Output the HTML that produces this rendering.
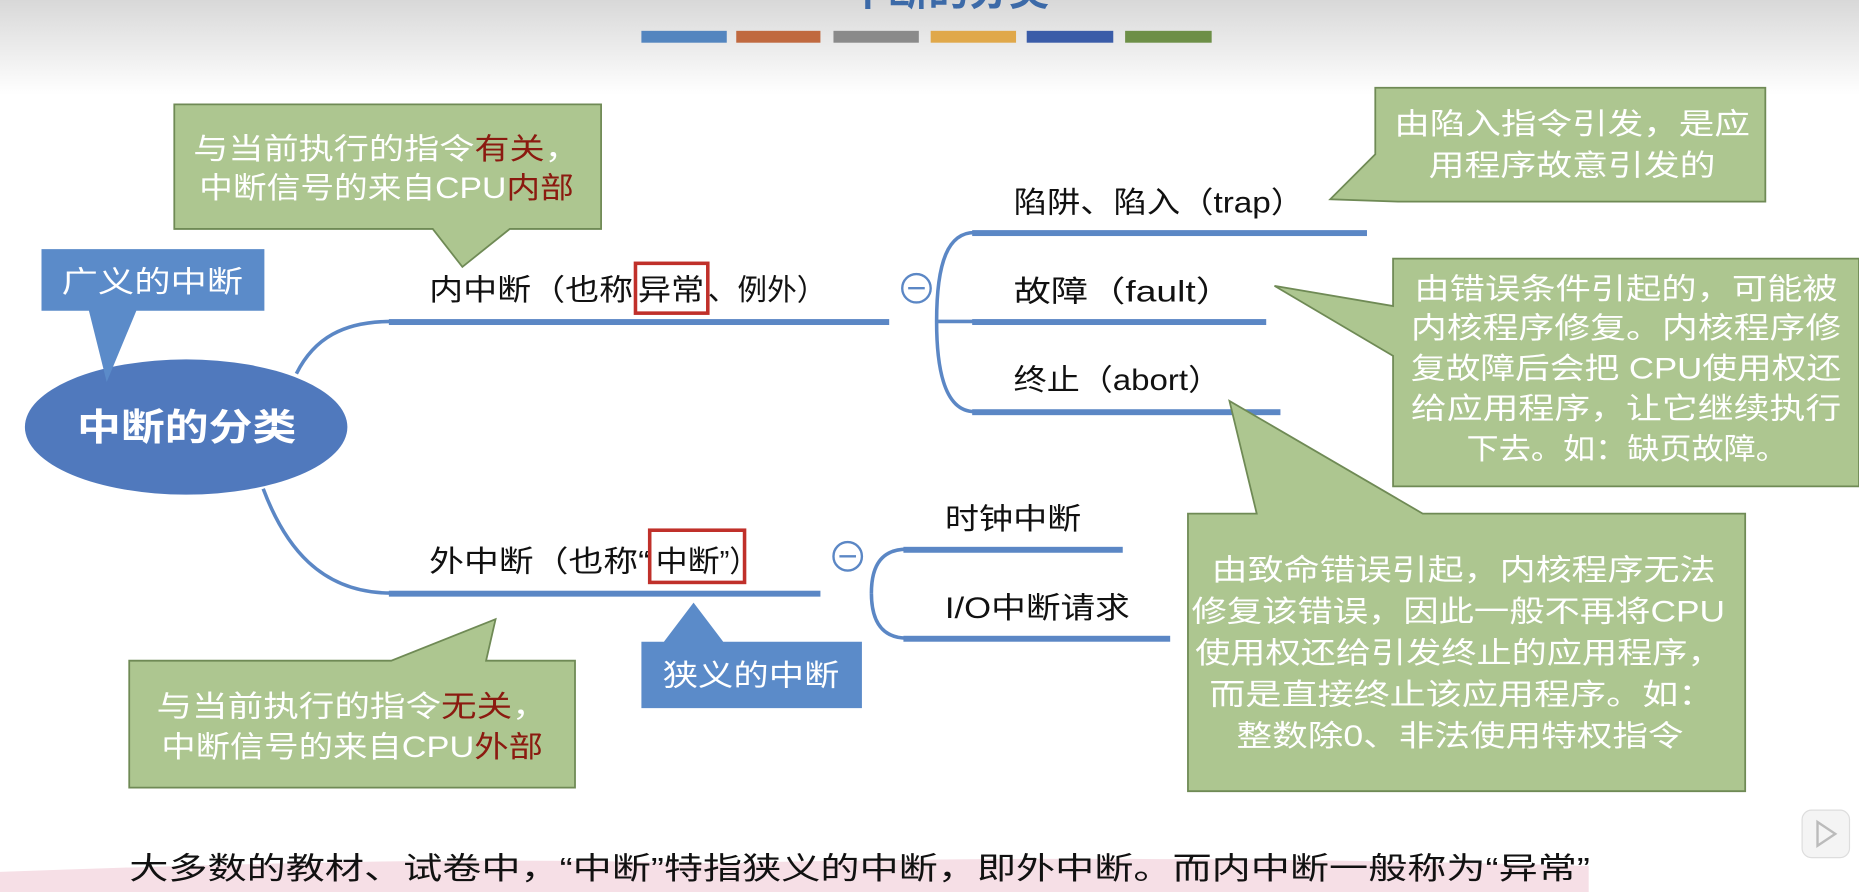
<!DOCTYPE html>
<html><head><meta charset="utf-8"><style>
html,body{margin:0;padding:0;background:#fff;overflow:hidden}
svg{display:block}
text{font-family:"Liberation Sans","Noto Sans CJK SC",sans-serif}
</style></head><body>
<svg width="1859" height="892" viewBox="0 0 1568 752" preserveAspectRatio="none" xmlns="http://www.w3.org/2000/svg">
<defs>
<linearGradient id="hg" x1="0" y1="0" x2="0" y2="1"><stop offset="0" stop-color="#d8d8d8"/><stop offset="1" stop-color="#ffffff"/></linearGradient>
</defs>
<rect x="0" y="0" width="1568" height="80" fill="url(#hg)"/>
<text x="800" y="4" font-size="34" fill="#3c6aa8" text-anchor="middle" font-weight="bold">中断的分类</text>
<rect x="541" y="26" width="72" height="10" fill="#5385bf"/>
<rect x="621" y="26" width="71" height="10" fill="#c0693f"/>
<rect x="703" y="26" width="72" height="10" fill="#8a8a8a"/>
<rect x="785" y="26" width="72" height="10" fill="#e0a84a"/>
<rect x="866" y="26" width="73" height="10" fill="#3a5ca8"/>
<rect x="949" y="26" width="73" height="10" fill="#6d8f47"/>

<g fill="none" stroke="#5b87c5" stroke-width="3">
<path d="M250 315 C265 285 290 271 330 271"/>
<path d="M222 412 C240 460 270 500 330 500"/>
<path d="M790 271 C790 220 800 196 822 196"/>
<path d="M790 271 L822 271"/>
<path d="M790 271 C790 320 800 347 822 347"/>
<path d="M735 500 C735 475 745 463 765 463"/>
<path d="M735 500 C735 525 745 538 765 538"/>
</g>
<g fill="#5b87c5">
<rect x="328" y="269" width="422" height="5"/>
<rect x="820" y="194" width="333" height="5"/>
<rect x="820" y="269" width="248" height="5"/>
<rect x="820" y="345" width="260" height="5"/>
<rect x="328" y="498" width="364" height="5"/>
<rect x="762" y="461" width="185" height="5"/>
<rect x="762" y="536" width="225" height="5"/>
</g>
<circle cx="773" cy="243" r="12" fill="#fff" stroke="#5b87c5" stroke-width="2"/>
<line x1="766" y1="243" x2="780" y2="243" stroke="#5b87c5" stroke-width="2"/>
<circle cx="715" cy="469" r="12" fill="#fff" stroke="#5b87c5" stroke-width="2"/>
<line x1="708" y1="469" x2="722" y2="469" stroke="#5b87c5" stroke-width="2"/>

<ellipse cx="157" cy="360" rx="136" ry="57" fill="#5079bd"/>
<text x="65" y="371" font-size="31" font-weight="bold" fill="#fff" textLength="185" lengthAdjust="spacingAndGlyphs">中断的分类</text>

<g font-size="25" fill="#111">
<text y="253"><tspan x="362" textLength="172" lengthAdjust="spacingAndGlyphs">内中断（也称</tspan><tspan x="538" textLength="56" lengthAdjust="spacingAndGlyphs">异常</tspan><tspan x="597" textLength="100" lengthAdjust="spacingAndGlyphs">、例外）</tspan></text>
<text y="482"><tspan x="362" textLength="186" lengthAdjust="spacingAndGlyphs">外中断（也称“</tspan><tspan x="553" textLength="54" lengthAdjust="spacingAndGlyphs">中断</tspan><tspan x="607" textLength="33" lengthAdjust="spacingAndGlyphs">”）</tspan></text>
<text x="855" y="179" textLength="245" lengthAdjust="spacingAndGlyphs">陷阱、陷入（trap）</text>
<text x="855" y="254" textLength="185" lengthAdjust="spacingAndGlyphs">故障（fault）</text>
<text x="855" y="329" textLength="175" lengthAdjust="spacingAndGlyphs">终止（abort）</text>
<text x="797" y="446" textLength="115" lengthAdjust="spacingAndGlyphs">时钟中断</text>
<text x="797" y="521" textLength="156" lengthAdjust="spacingAndGlyphs">I/O中断请求</text>
</g>
<rect x="536" y="222" width="61" height="42" fill="none" stroke="#c0302a" stroke-width="3"/>
<rect x="548" y="447" width="80" height="44" fill="none" stroke="#c0302a" stroke-width="3"/>

<g fill="#adc690" stroke="#6f8a55" stroke-width="1.5">
<path d="M147 88 H507 V193 H430 L390 225 L365 193 H147 Z"/>
<path d="M109 557 H330 L418 522 L410 557 H485 V664 H109 Z"/>
<path d="M1160 74 H1489 V170 H1180 L1122 168 L1160 130 Z"/>
<path d="M1175 218 H1568 V410 H1175 V300 L1075 241 L1175 258 Z"/>
<path d="M1002 433 H1060 L1037 338 L1200 433 H1472 V667 H1002 Z"/>
</g>
<g font-size="25" fill="#fff">
<text x="163" y="134" textLength="326" lengthAdjust="spacingAndGlyphs">与当前执行的指令<tspan fill="#8b1a10">有关</tspan>，</text>
<text x="168" y="167" textLength="316" lengthAdjust="spacingAndGlyphs">中断信号的来自CPU<tspan fill="#8b1a10">内部</tspan></text>
<text x="132" y="604" textLength="330" lengthAdjust="spacingAndGlyphs">与当前执行的指令<tspan fill="#8b1a10">无关</tspan>，</text>
<text x="136" y="638" textLength="322" lengthAdjust="spacingAndGlyphs">中断信号的来自CPU<tspan fill="#8b1a10">外部</tspan></text>
<text x="1176" y="113" textLength="300" lengthAdjust="spacingAndGlyphs">由陷入指令引发，是应</text>
<text x="1205" y="148" textLength="242" lengthAdjust="spacingAndGlyphs">用程序故意引发的</text>
<text x="1193" y="252" textLength="357" lengthAdjust="spacingAndGlyphs">由错误条件引起的，可能被</text>
<text x="1190" y="285" textLength="363" lengthAdjust="spacingAndGlyphs">内核程序修复。内核程序修</text>
<text x="1190" y="319" textLength="363" lengthAdjust="spacingAndGlyphs">复故障后会把 CPU使用权还</text>
<text x="1190" y="353" textLength="363" lengthAdjust="spacingAndGlyphs">给应用程序，让它继续执行</text>
<text x="1237" y="387" textLength="271" lengthAdjust="spacingAndGlyphs">下去。如：缺页故障。</text>
<text x="1022" y="489" textLength="425" lengthAdjust="spacingAndGlyphs">由致命错误引起，内核程序无法</text>
<text x="1005" y="524" textLength="450" lengthAdjust="spacingAndGlyphs">修复该错误，因此一般不再将CPU</text>
<text x="1008" y="559" textLength="445" lengthAdjust="spacingAndGlyphs">使用权还给引发终止的应用程序，</text>
<text x="1020" y="594" textLength="426" lengthAdjust="spacingAndGlyphs">而是直接终止该应用程序。如：</text>
<text x="1043" y="629" textLength="377" lengthAdjust="spacingAndGlyphs">整数除0、非法使用特权指令</text>
</g>

<g fill="#5b8bc9">
<path d="M35 210 H223 V262 H115 L90 322 L75 262 H35 Z"/>
<path d="M541 541 H560 L585 508 L610 541 H727 V597 H541 Z"/>
</g>
<text x="52" y="246" font-size="25" fill="#fff" textLength="153" lengthAdjust="spacingAndGlyphs">广义的中断</text>
<text x="559" y="578" font-size="25" fill="#fff" textLength="149" lengthAdjust="spacingAndGlyphs">狭义的中断</text>

<path d="M0 735 C200 728 400 722 600 728 C900 720 1200 726 1340 730 V752 H0 Z" fill="#f6dfe6"/>
<text x="109" y="741" font-size="26" fill="#111" textLength="1232" lengthAdjust="spacingAndGlyphs">大多数的教材、试卷中，“中断”特指狭义的中断，即外中断。而内中断一般称为“异常”</text>

<rect x="1520" y="683" width="40" height="40" rx="8" fill="#f4f4f4" stroke="#ddd"/>
<path d="M1533 693 L1548 703 L1533 713 Z" fill="none" stroke="#bbb" stroke-width="2"/>
</svg>
</body></html>
